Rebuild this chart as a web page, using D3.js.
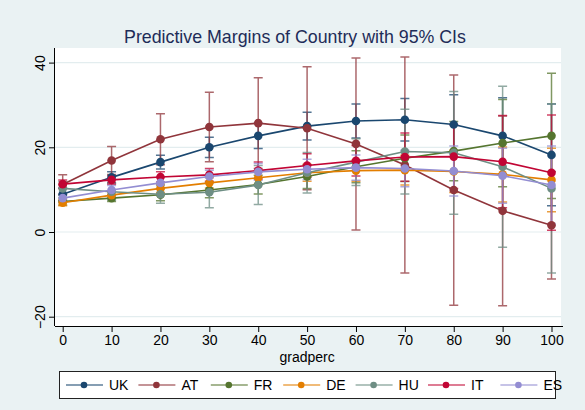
<!DOCTYPE html>
<html>
<head>
<meta charset="utf-8">
<script src="https://cdn.jsdelivr.net/npm/d3@7"></script>
<style>
  html, body { margin: 0; padding: 0; background: #eaf2f3; }
  svg { display: block; font-family: "Liberation Sans", Arial, sans-serif; }
</style>
</head>
<body>
<svg id="chart" width="585" height="410"></svg>
<script>
// ---- data ----
const gradperc = [0, 10, 20, 30, 40, 50, 60, 70, 80, 90, 100];
const countries = ["UK", "AT", "FR", "DE", "HU", "IT", "ES"];
const colors = ["#1a476f", "#90353b", "#55752f", "#e37e00", "#6e8e84", "#c10534", "#938dd2"];
const yTicks = [-20, 0, 20, 40];

const marginUK = [8.9, 12.9, 16.5, 20.0, 22.7, 25.0, 26.2, 26.5, 25.4, 22.7, 18.2];
const loUK     = [7.4, 11.6, 14.9, 17.6, 19.7, 21.7, 22.2, 21.5, 18.4, 13.7, 6.2];
const hiUK     = [10.4, 14.2, 18.1, 22.4, 25.7, 28.3, 30.2, 31.5, 32.4, 31.7, 30.2];

const marginAT = [11.2, 16.9, 21.9, 24.8, 25.7, 24.5, 20.8, 15.8, 9.9, 5.0, 1.6];
const loAT     = [8.9, 13.6, 15.9, 16.6, 15.0, 10.0, 0.5, -9.7, -17.3, -17.4, -11.1];
const hiAT     = [13.5, 20.2, 27.9, 33.0, 36.4, 39.0, 41.1, 41.3, 37.1, 27.4, 14.3];

const marginFR = [7.2, 8.0, 8.8, 9.9, 11.2, 13.1, 15.4, 17.4, 19.1, 21.0, 22.7];
const loFR     = [6.4, 7.2, 7.4, 8.1, 9.0, 10.3, 11.6, 11.9, 12.1, 10.7, 7.9];
const hiFR     = [8.0, 8.8, 10.2, 11.7, 13.4, 15.9, 19.2, 22.9, 26.1, 31.3, 37.5];

const marginDE = [6.9, 8.7, 10.3, 11.6, 12.8, 14.0, 14.5, 14.6, 14.3, 13.6, 12.3];
const loDE     = [6.2, 7.9, 9.3, 10.4, 11.3, 12.0, 12.0, 11.1, 9.3, 7.1, 4.8];
const hiDE     = [7.6, 9.5, 11.3, 12.8, 14.3, 16.0, 17.0, 18.1, 19.3, 20.1, 19.8];

const marginHU = [10.3, 9.5, 8.9, 9.4, 11.1, 14.0, 16.5, 19.0, 18.7, 15.4, 10.3];
const loHU     = [8.7, 7.5, 6.8, 5.7, 6.5, 9.2, 11.0, 9.0, 4.2, -3.6, -9.7];
const hiHU     = [11.9, 11.5, 11.0, 13.1, 15.7, 18.8, 22.0, 29.0, 33.2, 34.4, 30.3];

const marginIT = [11.3, 12.3, 13.0, 13.5, 14.5, 15.7, 16.8, 17.7, 17.8, 16.6, 14.0];
const loIT     = [10.3, 11.3, 11.8, 12.0, 12.5, 12.9, 13.2, 12.0, 10.3, 5.7, 0.4];
const hiIT     = [12.3, 13.3, 14.2, 15.0, 16.5, 18.5, 20.4, 23.4, 25.3, 27.5, 27.6];

const marginES = [8.0, 9.9, 11.6, 13.1, 14.2, 14.8, 15.2, 15.0, 14.4, 13.3, 11.1];
const loES     = [7.0, 8.8, 10.3, 11.6, 12.2, 12.4, 12.2, 10.7, 8.5, 6.8, 1.9];
const hiES     = [9.0, 11.0, 12.9, 14.6, 16.2, 17.2, 18.2, 19.3, 20.3, 19.8, 20.3];

const seriesMargins = [marginUK, marginAT, marginFR, marginDE, marginHU, marginIT, marginES];
const seriesLo = [loUK, loAT, loFR, loDE, loHU, loIT, loES];
const seriesHi = [hiUK, hiAT, hiFR, hiDE, hiHU, hiIT, hiES];

const series = countries.map((c, i) => ({
  name: c, color: colors[i],
  pts: gradperc.map((g, j) => ({ x: g, y: seriesMargins[i][j], lo: seriesLo[i][j], hi: seriesHi[i][j] }))
}));

// ---- layout ----
const svg = d3.select("#chart");
const plotL = 55, plotR = 561, plotT = 48, plotB = 326;

const x = d3.scaleLinear().domain([0, 100]).range([62.7, 551.5]);
const y = d3.scaleLinear().domain([-20, 40]).range([316.7, 62.6]);

svg.append("rect").attr("x", 0).attr("y", 0).attr("width", 585).attr("height", 410).attr("fill", "#eaf2f3");
svg.append("rect").attr("x", plotL).attr("y", plotT).attr("width", plotR - plotL).attr("height", plotB - plotT).attr("fill", "#ffffff");

// gridlines
svg.append("g").selectAll("line").data(yTicks).join("line")
  .attr("x1", plotL).attr("x2", plotR)
  .attr("y1", d => y(d)).attr("y2", d => y(d))
  .attr("stroke", "#e3edef").attr("stroke-width", 1.2);

// title
svg.append("text").attr("x", 295).attr("y", 43).attr("text-anchor", "middle")
  .attr("font-size", 17.8).attr("fill", "#1e2c58")
  .text("Predictive Margins of Country with 95% CIs");

// axes
const xAxis = d3.axisBottom(x).tickValues(gradperc).tickSize(6).tickSizeOuter(0).tickPadding(3);
const gx = svg.append("g").attr("transform", `translate(0,${plotB})`).call(xAxis);
gx.select(".domain").attr("d", `M${plotL},0.5H${plotR + 2}`).attr("stroke", "#000");
gx.selectAll(".tick line").attr("stroke", "#000");
gx.selectAll(".tick text").attr("font-size", 14).attr("fill", "#000")
  .attr("font-family", "Liberation Sans, Arial, sans-serif");

const yAxis = d3.axisLeft(y).tickValues(yTicks).tickSize(6).tickSizeOuter(0).tickPadding(3);
const gy = svg.append("g").attr("transform", `translate(${plotL},0)`).call(yAxis);
gy.select(".domain").attr("d", `M-0.5,${plotT}V${plotB}`).attr("stroke", "#000");
gy.selectAll(".tick line").attr("stroke", "#000");
gy.selectAll(".tick text")
  .attr("font-size", 14).attr("fill", "#000")
  .attr("font-family", "Liberation Sans, Arial, sans-serif")
  .attr("text-anchor", "middle").attr("dy", null)
  .attr("x", null).attr("y", null)
  .attr("transform", "translate(-10,0) rotate(-90)");

svg.append("text").attr("x", (x(0) + x(100)) / 2).attr("y", 362).attr("text-anchor", "middle")
  .attr("font-size", 14).attr("fill", "#000").text("gradperc");

// CI caps
const cap = 4.5;
const ciG = svg.append("g");
series.forEach(s => {
  const g = ciG.append("g").attr("stroke", s.color).attr("stroke-width", 1.5).attr("stroke-opacity", 0.75).attr("fill", "none");
  g.selectAll("path").data(s.pts).join("path")
    .attr("d", d => `M${x(d.x)},${y(d.lo)}V${y(d.hi)}M${x(d.x) - cap},${y(d.lo)}H${x(d.x) + cap}M${x(d.x) - cap},${y(d.hi)}H${x(d.x) + cap}`);
});

// lines + markers
const line = d3.line().x(d => x(d.x)).y(d => y(d.y));
series.forEach(s => {
  svg.append("path").datum(s.pts).attr("d", line)
    .attr("fill", "none").attr("stroke", s.color).attr("stroke-width", 1.6);
  svg.append("g").selectAll("circle").data(s.pts).join("circle")
    .attr("cx", d => x(d.x)).attr("cy", d => y(d.y)).attr("r", 4.3)
    .attr("fill", s.color);
});

// legend
const leg = svg.append("g");
leg.append("rect").attr("x", 59.5).attr("y", 371.5).attr("width", 496).attr("height", 27)
  .attr("fill", "#fff").attr("stroke", "#222").attr("stroke-width", 1);
const legStart = 66, legStep = 72.4, legY = 385;
series.forEach((s, i) => {
  const x0 = legStart + i * legStep;
  leg.append("line").attr("x1", x0).attr("x2", x0 + 37).attr("y1", legY).attr("y2", legY)
    .attr("stroke", s.color).attr("stroke-width", 1.5).attr("stroke-opacity", 0.7);
  leg.append("circle").attr("cx", x0 + 18).attr("cy", legY).attr("r", 3.3).attr("fill", s.color);
  leg.append("text").attr("x", x0 + 43).attr("y", legY + 5).attr("font-size", 14).attr("fill", "#000").text(s.name);
});
</script>
</body>
</html>
